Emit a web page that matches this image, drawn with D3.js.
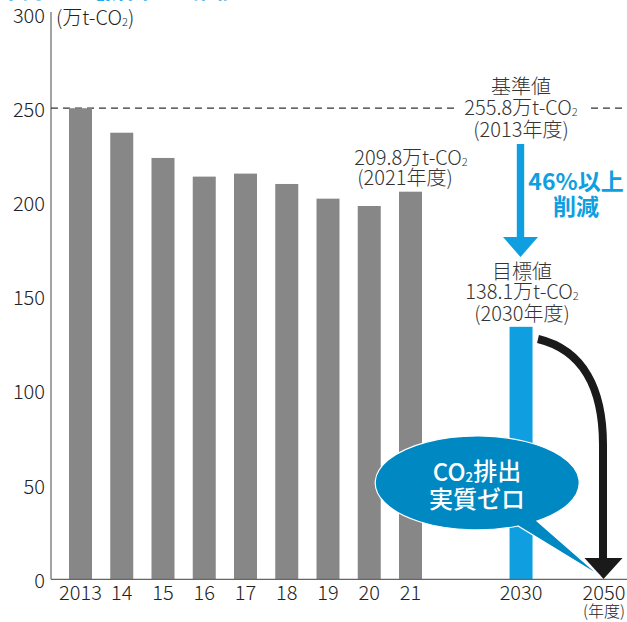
<!DOCTYPE html>
<html>
<head>
<meta charset="utf-8">
<script src="https://cdn.jsdelivr.net/npm/d3@7"></script>
<style>
  body { margin: 0; background: #fff; }
  text { font-family: "Noto Sans CJK JP", "Noto Sans", sans-serif; font-weight: 300; }
  text.bold { font-weight: bold; }
  text.mid { font-weight: 500; }
</style>
</head>
<body>
<svg id="chart" width="627" height="622"></svg>
<script>
// Data
const years = ["2013", "14", "15", "16", "17", "18", "19", "20", "21"];
const emissions = [250.0, 237.0, 223.6, 213.7, 215.3, 209.8, 202.0, 198.1, 205.7];
const targetYear = "2030";
const targetValue = 134;
const goalYear = "2050";
const baseLineValue = 250;
const yTicks = [0, 50, 100, 150, 200, 250, 300];

const width = 627, height = 622;
const svg = d3.select("#chart");

const y = d3.scaleLinear().domain([0, 300]).range([579.3, 14]);
// slot scale: historical years sit on slots 0..8, the future years further right
const x = d3.scaleLinear().domain([0, 8]).range([80.5, 410.5]);
const x2030 = x(10.68), x2050 = x(12.69);
const barW = 23;
const axisX = 51;

const textColor = "#333";
const gray = "#878787";
const blue = "#0f9fe0";
const bubbleBlue = "#0088c2";

// cut-off title at the very top
svg.append("text")
  .attr("class", "bold")
  .attr("x", 0).attr("y", -2.5)
  .style("font-size", "22px")
  .attr("fill", "#2ba8e2")
  .text("市内のCO₂排出量の推移");

// y axis
const yAxis = svg.append("g")
  .attr("transform", `translate(${axisX},0)`)
  .call(d3.axisLeft(y).tickValues(yTicks).tickSize(0).tickPadding(6));
yAxis.select(".domain").attr("stroke", "#666").attr("stroke-width", 1.2)
  .attr("d", `M0,12V${y(0)}`);
yAxis.selectAll("text")
  .style("font-size", "20px")
  .attr("fill", "#222")
  .attr("dy", "0.4em")
  .style("font-family", '"Noto Sans CJK JP", "Noto Sans", sans-serif');

// text with a subscript 2 in CO2
function co2(sel, prefix, suffix) {
  sel.append("tspan").text(prefix + "CO");
  sel.append("tspan").text("2").style("font-size", "0.55em").attr("dy", "0.05em");
  if (suffix) sel.append("tspan").text(suffix).attr("dy", "-0.05em");
  return sel;
}

// unit label
svg.append("text")
  .attr("x", 56).attr("y", 25)
  .style("font-size", "20px").attr("fill", "#222")
  .call(co2, "(万t-", ")");

// dashed base line
svg.append("line")
  .attr("x1", axisX).attr("x2", width)
  .attr("y1", y(baseLineValue)).attr("y2", y(baseLineValue))
  .attr("stroke", "#333").attr("stroke-width", 1.2)
  .attr("stroke-dasharray", "7,5");

// historical bars
svg.append("g")
  .selectAll("rect")
  .data(emissions)
  .enter().append("rect")
  .attr("x", (d, i) => x(i) - barW / 2)
  .attr("width", barW)
  .attr("y", d => y(d))
  .attr("height", d => y(0) - y(d))
  .attr("fill", gray);

// target bar
svg.append("rect")
  .attr("x", x2030 - barW / 2).attr("width", barW)
  .attr("y", y(targetValue)).attr("height", y(0) - y(targetValue))
  .attr("fill", blue);

// x axis line
svg.append("line")
  .attr("x1", axisX).attr("x2", width)
  .attr("y1", y(0)).attr("y2", y(0))
  .attr("stroke", "#666").attr("stroke-width", 1.2);

// x labels
const xLabels = years.map((d, i) => ({ t: d, x: x(i) }))
  .concat([{ t: targetYear, x: x2030 }, { t: goalYear, x: x2050 }]);
svg.append("g")
  .selectAll("text")
  .data(xLabels)
  .enter().append("text")
  .attr("x", d => d.x).attr("y", 600)
  .attr("text-anchor", "middle")
  .style("font-size", "20px").attr("fill", "#222")
  .text(d => d.t);
svg.append("text")
  .attr("x", x2050).attr("y", 617)
  .attr("text-anchor", "middle")
  .style("font-size", "16px").attr("fill", "#222")
  .text("(年度)");

// base value annotation
svg.append("rect")
  .attr("x", 454).attr("y", 98).attr("width", 133).attr("height", 20)
  .attr("fill", "#fff");
const ann = svg.append("g").attr("fill", textColor).style("font-size", "20px")
  .attr("text-anchor", "middle");
ann.append("text").attr("x", 521).attr("y", 94).text("基準値");
ann.append("text").attr("x", 521).attr("y", 115).call(co2, "255.8万t-");
ann.append("text").attr("x", 521).attr("y", 137).text("(2013年度)");

// latest value annotation
ann.append("text").attr("x", 411).attr("y", 165).call(co2, "209.8万t-");
ann.append("text").attr("x", 405).attr("y", 185).text("(2021年度)");

// target annotation
ann.append("text").attr("x", 522).attr("y", 279).text("目標値");
ann.append("text").attr("x", 522).attr("y", 299).call(co2, "138.1万t-");
ann.append("text").attr("x", 522).attr("y", 321).text("(2030年度)");

// blue reduction arrow
svg.append("path")
  .attr("d", "M516.8,144H524.2V237H538L520.5,257L503,237H516.8Z")
  .attr("fill", blue);
const red = svg.append("g").attr("fill", blue)
  .style("font-size", "23px")
  .attr("text-anchor", "middle");
red.append("text").attr("class", "bold").attr("x", 576).attr("y", 190).text("46%以上");
red.append("text").attr("class", "bold").attr("x", 576).attr("y", 215).text("削減");

// black curved arrow to 2050
svg.append("path")
  .attr("d", "M538,339C584,350 603,390 603,445L603,562")
  .attr("fill", "none").attr("stroke", "#1a1a1a").attr("stroke-width", 8);
svg.append("path")
  .attr("d", "M584.5,558H622.5L603.5,579Z")
  .attr("fill", "#1a1a1a");

// speech bubble
svg.append("path")
  .attr("d", "M537,521A102,47 0 1 0 518,526L600,576Z")
  .attr("fill", bubbleBlue).attr("stroke", "#fff").attr("stroke-width", 1.2);
const bub = svg.append("g").attr("fill", "#fff")
  .style("font-size", "24px")
  .attr("text-anchor", "middle");
bub.append("text").attr("class", "mid").attr("x", 477).attr("y", 481).call(co2, "", "排出");
bub.append("text").attr("class", "mid").attr("x", 477).attr("y", 508).text("実質ゼロ");
</script>
</body>
</html>
